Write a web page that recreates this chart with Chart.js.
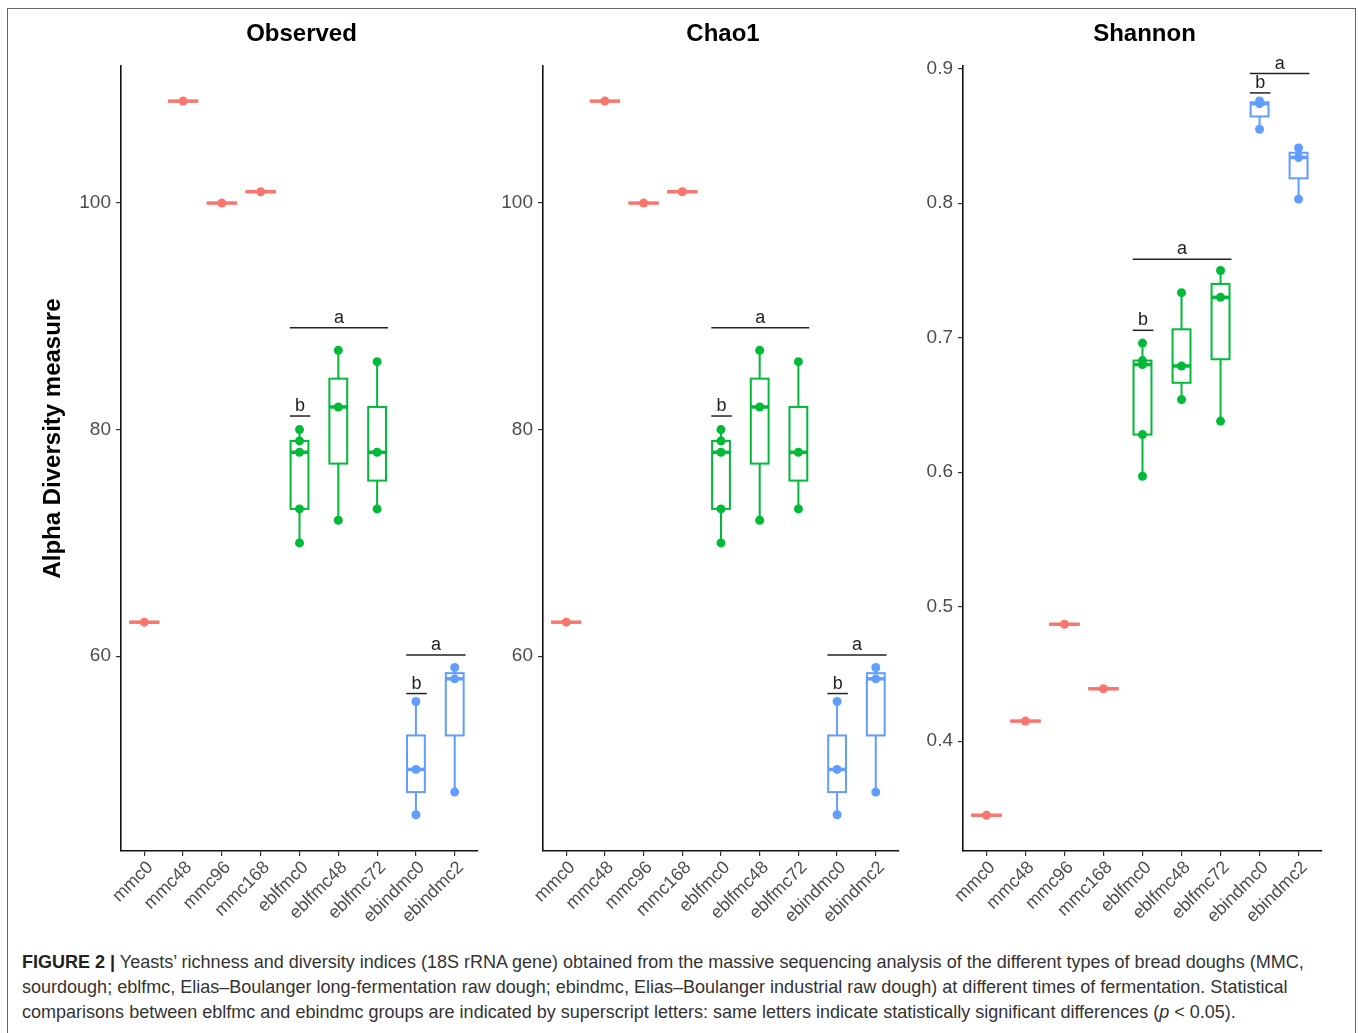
<!DOCTYPE html>
<html>
<head>
<meta charset="utf-8">
<script src="https://cdn.jsdelivr.net/npm/chart.js@4.4.1/dist/chart.umd.min.js"></script>
<style>
  body { margin: 0; background: #fff; width: 1358px; height: 1033px; overflow: hidden; position: relative;
         font-family: 'Liberation Sans', Arial, sans-serif; }
  #frame { position: absolute; left: 7px; top: 8px; width: 1349px; height: 1100px; border: 1.5px solid #666; box-sizing: border-box; }
  canvas { position: absolute; top: 0; }
  #caption { position: absolute; left: 22px; top: 950px; color: #333; font-size: 17px; line-height: 25px; white-space: nowrap; }
  #caption b { color: #222; }
</style>
</head>
<body>
<div id="frame"></div>
<canvas id="observed" width="492" height="940" style="left:0px"></canvas>
<canvas id="chao1" width="423" height="940" style="left:490px"></canvas>
<canvas id="shannon" width="437" height="940" style="left:913px"></canvas>
<div id="caption">
  <div class="ln" id="ln1"><b>FIGURE 2 |</b> Yeasts’ richness and diversity indices (18S rRNA gene) obtained from the massive sequencing analysis of the different types of bread doughs (MMC,</div>
  <div class="ln">sourdough; eblfmc, Elias–Boulanger long-fermentation raw dough; ebindmc, Elias–Boulanger industrial raw dough) at different times of fermentation. Statistical</div>
  <div class="ln">comparisons between eblfmc and ebindmc groups are indicated by superscript letters: same letters indicate statistically significant differences (<i>p</i> &lt; 0.05).</div>
</div>
<script>
const categories = ["mmc0", "mmc48", "mmc96", "mmc168", "eblfmc0", "eblfmc48", "eblfmc72", "ebindmc0", "ebindmc2"];
const groups = ["mmc", "mmc", "mmc", "mmc", "eblfmc", "eblfmc", "eblfmc", "ebindmc", "ebindmc"];

// one list of samples per category
const observedValues = [[63], [109], [100], [101], [70, 73, 78, 79, 80], [72, 82, 87], [73, 78, 86], [46, 50, 56], [48, 58, 59]];
const chao1Values = [[63], [109], [100], [101], [70, 73, 78, 79, 80], [72, 82, 87], [73, 78, 86], [46, 50, 56], [48, 58, 59]];
const shannonValues = [[0.345], [0.415], [0.487], [0.439], [0.597, 0.628, 0.680, 0.683, 0.696], [0.654, 0.679, 0.7335], [0.638, 0.730, 0.750], [0.855, 0.874, 0.876], [0.803, 0.834, 0.841]];

const countTicks = [60, 80, 100];
const countTickLabels = ["60", "80", "100"];
const shannonTicks = [0.4, 0.5, 0.6, 0.7, 0.8, 0.9];
const shannonTickLabels = ["0.4", "0.5", "0.6", "0.7", "0.8", "0.9"];

// significance bars: first/last category and height in data units
const countLetters = [
  { from: 4, to: 6, at: 89.0, text: "a" },
  { from: 4, to: 4, at: 81.2, text: "b" },
  { from: 7, to: 8, at: 60.1, text: "a" },
  { from: 7, to: 7, at: 56.7, text: "b" }
];
const shannonLetters = [
  { from: 4, to: 6, at: 0.7584, text: "a" },
  { from: 4, to: 4, at: 0.7055, text: "b" },
  { from: 7, to: 8, at: 0.8964, text: "a" },
  { from: 7, to: 7, at: 0.882, text: "b" }
];

const colors = { mmc: "#F8766D", eblfmc: "#00BA38", ebindmc: "#619CFF" };
const boxWidth = { mmc: 0.78, eblfmc: 0.46, ebindmc: 0.46 };
const FONT = "'Liberation Sans', Arial, sans-serif";

function quantile(s, p) {
  const h = (s.length - 1) * p;
  const lo = Math.floor(h);
  const hi = Math.min(lo + 1, s.length - 1);
  return s[lo] + (h - lo) * (s[hi] - s[lo]);
}

function makePanel(id, title, values, yMin, yMax, yTicks, yLabels, letters, yWidth, padRight, yTitle) {
  const panel = {
    id: "panel_" + id,
    beforeDatasetsDraw(chart) {
      const { ctx, scales: { x, y } } = chart;
      ctx.save();
      values.forEach((vals, i) => {
        const s = vals.slice().sort((a, b) => a - b);
        const q1 = quantile(s, 0.25), med = quantile(s, 0.5), q3 = quantile(s, 0.75);
        const iqr = q3 - q1;
        const lo = Math.min(...s.filter(v => v >= q1 - 1.5 * iqr));
        const hi = Math.max(...s.filter(v => v <= q3 + 1.5 * iqr));
        const g = groups[i];
        const half = boxWidth[g] / 2;
        const xl = x.getPixelForValue(i - half), xr = x.getPixelForValue(i + half), xc = x.getPixelForValue(i);
        ctx.strokeStyle = colors[g];
        ctx.lineWidth = 2;
        ctx.beginPath();
        ctx.moveTo(xc, y.getPixelForValue(hi)); ctx.lineTo(xc, y.getPixelForValue(q3));
        ctx.moveTo(xc, y.getPixelForValue(q1)); ctx.lineTo(xc, y.getPixelForValue(lo));
        ctx.stroke();
        ctx.strokeRect(xl, y.getPixelForValue(q3), xr - xl, y.getPixelForValue(q1) - y.getPixelForValue(q3));
        ctx.lineWidth = 3.5;
        ctx.beginPath();
        ctx.moveTo(xl, y.getPixelForValue(med)); ctx.lineTo(xr, y.getPixelForValue(med));
        ctx.stroke();
      });
      ctx.restore();
    },
    afterDatasetsDraw(chart) {
      const { ctx, scales: { x, y } } = chart;
      ctx.save();
      ctx.strokeStyle = "#222";
      ctx.fillStyle = "#222";
      ctx.lineWidth = 1.5;
      ctx.font = "18px " + FONT;
      ctx.textAlign = "center";
      ctx.textBaseline = "alphabetic";
      letters.forEach(l => {
        const x0 = x.getPixelForValue(l.from - 0.25), x1 = x.getPixelForValue(l.to + 0.28);
        const py = y.getPixelForValue(l.at);
        ctx.beginPath();
        ctx.moveTo(x0, py); ctx.lineTo(x1, py);
        ctx.stroke();
        ctx.fillText(l.text, (x0 + x1) / 2, py - 5);
      });
      ctx.restore();
    },
    afterDraw(chart) {
      const { ctx, chartArea } = chart;
      ctx.save();
      ctx.fillStyle = "#000";
      ctx.font = "bold 24px " + FONT;
      ctx.textAlign = "center";
      ctx.textBaseline = "alphabetic";
      ctx.fillText(title, (chartArea.left + chartArea.right) / 2 + 2, 41);
      if (yTitle) {
        ctx.translate(60, 438.5);
        ctx.rotate(-Math.PI / 2);
        ctx.fillText(yTitle, 0, 0);
      }
      ctx.restore();
    }
  };

  const grid = { display: true, drawOnChartArea: false, drawTicks: true, tickLength: 5, color: "#333", lineWidth: 1.2 };
  const border = { display: true, color: "#111", width: 1.6 };

  new Chart(document.getElementById(id), {
    type: "scatter",
    data: {
      datasets: ["mmc", "eblfmc", "ebindmc"].map(g => ({
        label: g,
        data: values.flatMap((vals, i) => groups[i] === g ? vals.map(v => ({ x: i, y: v })) : []),
        backgroundColor: colors[g],
        borderWidth: 0,
        pointRadius: 4.5,
        pointHoverRadius: 4.5
      }))
    },
    options: {
      responsive: false,
      animation: false,
      layout: { padding: { top: 66, right: padRight, left: 0, bottom: 0 } },
      plugins: { legend: { display: false }, tooltip: { enabled: false } },
      scales: {
        x: {
          type: "linear", min: -0.6, max: 8.6,
          afterBuildTicks: s => { s.ticks = categories.map((c, i) => ({ value: i })); },
          afterFit: s => { s.height = 89; },
          ticks: { autoSkip: false, maxRotation: 45, minRotation: 45, padding: 1, labelOffset: 6, color: "#4d4d4d",
                   font: { size: 18, family: FONT }, callback: v => categories[v] },
          grid, border
        },
        y: {
          min: yMin, max: yMax,
          afterBuildTicks: s => { s.ticks = yTicks.map(v => ({ value: v })); },
          afterFit: s => { s.width = yWidth; },
          ticks: { padding: 5, color: "#4d4d4d", font: { size: 19, family: FONT }, callback: (v, i) => yLabels[i] },
          grid, border
        }
      }
    },
    plugins: [panel]
  });
}

makePanel("observed", "Observed", observedValues, 42.8, 112.1, countTicks, countTickLabels, countLetters, 121, 14, "Alpha Diversity measure");
makePanel("chao1", "Chao1", chao1Values, 42.8, 112.1, countTicks, countTickLabels, countLetters, 53, 14, null);
makePanel("shannon", "Shannon", shannonValues, 0.3184, 0.902, shannonTicks, shannonTickLabels, shannonLetters, 50, 28, null);

// fit caption width to the reference line length
const ln1 = document.getElementById("ln1");
const span = document.createElement("span");
span.innerHTML = ln1.innerHTML;
ln1.innerHTML = "";
ln1.appendChild(span);
const w = span.getBoundingClientRect().width;
document.getElementById("caption").style.fontSize = (17 * 1283 / w).toFixed(2) + "px";
</script>
</body>
</html>
